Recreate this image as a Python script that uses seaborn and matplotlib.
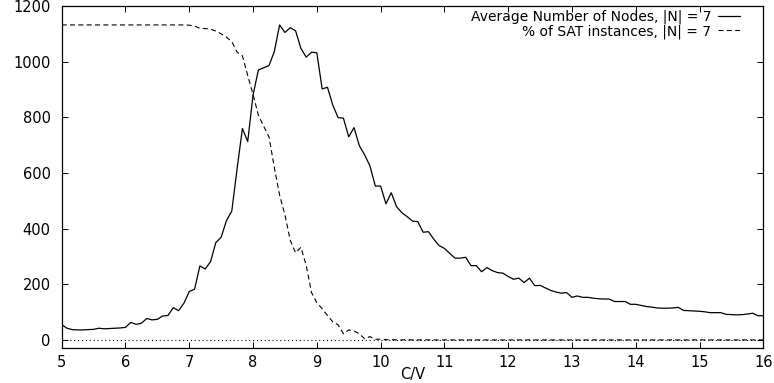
import numpy as np
import pandas as pd
import matplotlib
matplotlib.use("Agg")
import matplotlib.pyplot as plt
import seaborn as sns
from matplotlib.lines import Line2D

# ---- data ----
clauses = np.arange(60, 193)          # clause counts, 12 variables
n_vars = 12
cv = clauses / n_vars                 # C/V ratio 5.0 .. 16.0

avg_nodes = [
    55, 42, 37, 36, 36, 37, 38, 42, 40, 41, 42, 43, 45,
    63, 56, 60, 77, 72, 74, 86, 88, 116, 105, 132, 174, 182,
    266, 255, 281, 350, 369, 429, 463, 615, 760, 713,
    880, 970, 978, 986, 1036, 1132, 1105, 1122, 1111,
    1048, 1016, 1034, 1032, 902, 908, 844, 799, 797, 730, 763, 698, 665, 625,
    553, 553, 489, 529, 479, 457, 443, 427, 425, 387,
    389, 362, 339, 329, 311, 294, 294, 297, 267, 267,
    245, 260, 249, 242, 240, 228, 218, 222, 206, 222,
    195, 196,
    187, 178, 172, 168, 170, 153, 158, 153, 153, 150,
    148, 147, 147, 138, 138, 138, 128, 128, 124, 120,
    118, 115, 114, 114, 115, 117, 106, 105, 104, 103,
    101, 98, 98, 98, 92, 91, 90, 91, 93, 96,
    87, 87,
]

sat_scaled = [
    1132, 1132, 1132, 1132, 1132, 1132, 1132, 1132, 1132, 1132, 1132, 1132,
    1132, 1132, 1132, 1132, 1132, 1132, 1132, 1132, 1132, 1132, 1132, 1132,
    1131, 1128, 1120, 1119, 1117, 1110, 1100, 1088, 1072, 1034,
    1021, 950, 882, 808, 768, 730, 620, 520, 449, 358,
    313, 333, 268, 170, 134, 112, 88, 65, 54, 22,
    36, 32, 22, 4, 12, 2,
    3, 1, 1, 0, 0, 1, 0, 0, 0, 0,
    0, 0, 0, 0, 0, 0, 0, 0, 0, 0,
    0, 0, 0, 0, 0, 0, 0, 0, 0, 0,
    0, 0, 0, 0, 0, 0, 0, 0, 0, 0,
    0, 0, 0, 0, 0, 0, 0, 0, 0, 0,
    0, 0, 0, 0, 0, 0, 0, 0, 0, 0,
    0, 0, 0, 0, 0, 0, 0, 0, 0, 0,
    0, 0, 0,
]

x_ticks = [5, 6, 7, 8, 9, 10, 11, 12, 13, 14, 15, 16]
y_ticks = [0, 200, 400, 600, 800, 1000, 1200]
label_nodes = "Average Number of Nodes, |N| = 7"
label_sat = "% of SAT instances, |N| = 7"

df = pd.DataFrame({"cv": cv, "nodes": avg_nodes, "sat": sat_scaled})

# ---- style ----
sns.set_style("ticks")
plt.rcParams["font.family"] = ["DejaVu Sans"]
plt.rcParams["font.size"] = 10.5
plt.rcParams["text.color"] = "black"
plt.rcParams["axes.labelcolor"] = "black"

fig = plt.figure(figsize=(7.74, 3.83), dpi=100)
ax = fig.add_axes([0.0797, 0.0914, 0.9065, 0.8929])

dash_style = (0, (4.5, 3))
ax.axhline(0, color="black", lw=0.8, ls=(0, (1, 2.5)), zorder=1)
sns.lineplot(data=df, x="cv", y="nodes", ax=ax, color="black", lw=0.9, zorder=3)
sns.lineplot(data=df, x="cv", y="sat", ax=ax, color="black", lw=0.8,
             linestyle=dash_style, zorder=2)

ax.set_xlim(5, 16)
ax.set_ylim(-29, 1200)
ax.set_xticks(x_ticks)
ax.set_yticks(y_ticks)
ax.set_xlabel("C/V", labelpad=-2, fontsize=10.5, color="black")
ax.set_ylabel("")

for s in ax.spines.values():
    s.set_visible(True)
    s.set_linewidth(0.9)
    s.set_color("black")

ax.tick_params(direction="in", length=4.5, width=0.7, top=True, right=True,
               colors="black", labelcolor="black", labelsize=10.5)
ax.tick_params(axis="x", pad=5)
ax.tick_params(axis="y", pad=8)

handles = [Line2D([], [], color="black", lw=0.9),
           Line2D([], [], color="black", lw=0.8, ls=dash_style)]
leg = ax.legend(handles, [label_nodes, label_sat], loc="upper right",
                bbox_to_anchor=(0.976, 1.01), frameon=False, markerfirst=False,
                handlelength=1.55, handletextpad=0.5, labelspacing=0.0,
                borderpad=0.0, fontsize=10)
for t in leg.get_texts():
    t.set_color("black")

fig.savefig("out.png", dpi=100)
